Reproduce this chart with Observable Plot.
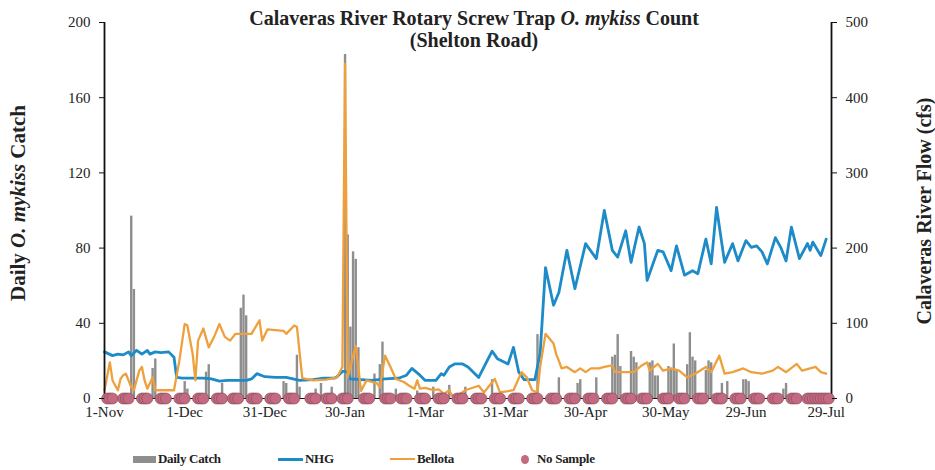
<!DOCTYPE html>
<html><head><meta charset="utf-8">
<script src="https://cdn.jsdelivr.net/npm/d3@7"></script>
<script src="https://cdn.jsdelivr.net/npm/@observablehq/plot@0.6"></script>
<style>
body{margin:0;background:#fff;}
#wrap{position:relative;width:935px;height:470px;font-family:"Liberation Serif","Times New Roman",serif;color:#222;}
.leg{position:absolute;top:450px;height:18px;display:flex;align-items:center;font-weight:bold;font-size:13px;letter-spacing:-0.3px;white-space:nowrap;}
.sw{display:inline-block;margin-right:2px;}
</style></head><body><div id="wrap"></div>
<script>
// ---- data ----
const startDate = "2014-11-01";
const endDate = "2015-07-31";
const xTickDates = ["2014-11-01","2014-12-01","2014-12-31","2015-01-30","2015-03-01","2015-03-31","2015-04-30","2015-05-30","2015-06-29","2015-07-29"];
const leftTicks = [0, 40, 80, 120, 160, 200];
const rightTicks = [0, 100, 200, 300, 400, 500];

// Daily catch (day offset from 1-Nov, count)
const catchDays   = [10,11,18,19,30,31,38,39,44,51,52,53,67,68,72,73,79,81,85,90,91,92,93,94,95,101,103,104,109,117,123,129,135,145,162,170,177,178,184,190,191,192,193,197,198,199,204,205,206,207,211,212,213,214,218,219,220,221,225,226,227,231,233,239,240,241,254,255];
const catchCounts = [97,58,16,21,9,5,14,18,8,48,55,44,9,8,23,6,5,8,6,183,87,38,78,74,27,13,18,30,5,4,6,7,6,10,34,11,8,10,11,22,23,34,17,25,22,19,19,20,12,12,17,16,29,15,18,35,22,20,15,20,19,8,9,10,10,9,5,8];

// NHG flow (cfs)
const nhgDays = [0,3,5,7,9,10,12,14,16,17,19,21,24,26,27,29,33,37,40,43,46,49,53,55,57,60,64,68,73,78,82,86,87,89,90,91,92,96,100,105,110,113,115,118,120,124,126,127,129,131,134,136,140,145,147,151,153,155,157,161,163,165,168,170,173,176,180,184,187,190,192,195,197,200,202,203,207,209,212,214,217,220,222,225,227,229,232,235,237,240,242,244,246,248,251,253,255,257,260,263,264,265,268,270];
const nhgFlow = [62,57,59,58,62,57,64,59,64,59,62,61,62,55,28,27,27,27,26,23,24,24,24,26,33,29,28,28,24,25,27,27,29,36,36,35,26,25,24,26,27,31,40,31,24,24,33,31,42,46,46,42,28,63,53,46,68,35,25,25,60,174,124,141,197,146,206,186,250,197,188,223,181,228,206,157,197,195,170,203,164,170,166,212,179,254,181,206,183,210,201,203,195,179,214,201,183,228,186,206,197,208,190,212];

// Bellota flow (cfs)
const bellotaDays = [0,2,3,5,6,7,8,10,11,13,14,15,16,18,19,26,28,30,31,33,34,35,37,39,41,43,45,47,49,52,55,58,59,61,64,67,68,71,72,74,78,83,87,89,90,91,94,96,98,102,103,105,107,109,112,114,116,117,118,120,123,125,127,129,130,133,135,140,142,146,148,153,156,158,160,162,163,165,168,169,170,171,173,176,178,180,182,185,187,190,191,194,198,201,203,204,207,209,212,215,218,221,225,227,230,232,235,239,242,246,250,252,255,259,261,264,266,268,270];
const bellotaFlow = [11,48,24,11,26,31,33,15,11,37,42,24,13,28,11,11,50,99,97,59,24,77,93,68,82,99,82,77,86,86,86,104,77,92,91,90,86,97,95,27,24,25,28,42,445,28,70,10,24,20,15,57,42,26,22,17,13,24,13,14,11,12,6,11,4,6,11,17,8,26,8,11,35,28,11,8,42,86,73,59,50,40,42,35,40,35,40,40,42,44,35,35,35,44,48,37,46,37,40,37,28,33,42,35,57,33,35,40,35,33,37,42,35,46,37,40,42,35,33];

// No-sample days (day offset from 1-Nov)
const noSampleDays = [1,2,3,7,8,9,14,15,16,21,22,23,28,29,30,35,36,37,42,43,44,48,49,50,55,56,57,62,63,64,69,70,71,77,78,79,83,84,85,89,90,91,97,98,99,105,106,107,111,112,113,118,119,120,125,126,127,132,133,134,139,140,141,146,147,148,153,154,155,160,161,162,167,168,169,174,175,176,181,182,183,188,189,190,195,196,197,201,202,203,209,210,211,215,216,217,222,223,224,229,230,231,236,237,238,243,244,245,250,251,252,257,258,259,263,264,265,266,267,268,269,270,271];

const titleText = ["Calaveras River Rotary Screw Trap ", "O. mykiss", " Count"];
const subtitleText = "(Shelton Road)";
const leftLabel = ["Daily ", "O. mykiss", " Catch"];
const rightLabel = "Calaveras River Flow (cfs)";
const legendLabels = ["Daily Catch", "NHG", "Bellota", "No Sample"];

// ---- build ----
const t0 = new Date(startDate);
const day = n => d3.utcDay.offset(t0, n);
const flowScale = 200 / 500; // flow axis mapped onto catch axis
const catchData = catchDays.map((d, i) => ({date: day(d), count: catchCounts[i]}));
const nhg = nhgDays.map((d, i) => ({date: day(d), flow: nhgFlow[i]}));
const bellota = bellotaDays.map((d, i) => ({date: day(d), flow: bellotaFlow[i]}));
const noSample = noSampleDays.map(d => ({date: day(d), v: 0}));
const xDomain = [new Date(startDate), new Date(endDate)];

const C = {bar: "#8e8e8e", nhg: "#1d8bc7", bel: "#eea03c", dot: "#c46a80", dotStroke: "#7e4657"};

const chart = Plot.plot({
  width: 935, height: 432,
  marginTop: 22, marginBottom: 34, marginLeft: 104, marginRight: 104,
  x: {type: "utc", domain: xDomain},
  y: {domain: [0, 200]},
  style: {fontFamily: "'Liberation Serif', 'Times New Roman', serif", fontSize: "15px", color: "#222", background: "#fff"},
  marks: [
    Plot.ruleX(catchData, {x: "date", y1: 0, y2: "count", stroke: C.bar, strokeWidth: 2.4}),
    Plot.line(nhg, {x: "date", y: d => d.flow * flowScale, stroke: C.nhg, strokeWidth: 2.8, curve: "linear"}),
    Plot.line(bellota, {x: "date", y: d => d.flow * flowScale, stroke: C.bel, strokeWidth: 2.3, curve: "linear"}),
    Plot.ruleY([0], {stroke: "#111", strokeWidth: 1.2}),
    Plot.ruleX(xDomain, {stroke: "#111", strokeWidth: 1.8}),
    Plot.dot(noSample, {x: "date", y: "v", r: 5.5, fill: C.dot, stroke: C.dotStroke, strokeWidth: 0.6}),
    Plot.axisY(leftTicks, {anchor: "left", tickSize: 5, tickPadding: 9, label: null, stroke: "#111"}),
    Plot.axisY(rightTicks.map(v => v * flowScale), {anchor: "right", tickSize: 5, tickPadding: 9, label: null, stroke: "#111", tickFormat: v => Math.round(v / flowScale)}),
    Plot.axisX(xTickDates.map(s => new Date(s)), {tickSize: 0, tickPadding: 8, label: null, tickFormat: d3.utcFormat("%-d-%b")})
  ]
});

const wrap = document.getElementById("wrap");
wrap.appendChild(chart);

const svg = d3.select(chart);
const font = "'Liberation Serif', 'Times New Roman', serif";
function addText(x, y, parts, rot, size) {
  const t = svg.append("text")
    .attr("text-anchor", "middle")
    .attr("font-family", font).attr("font-size", size).attr("font-weight", "bold").attr("fill", "#222")
    .attr("transform", `translate(${x},${y})` + (rot ? ` rotate(${rot})` : ""));
  (Array.isArray(parts) ? parts : [parts]).forEach((p, i) => {
    const s = t.append("tspan").text(p);
    if (Array.isArray(parts) && i === 1) s.attr("font-style", "italic");
  });
}
addText(474, 25, titleText, 0, 20);
addText(474, 47, subtitleText, 0, 20);
addText(25, 203, leftLabel, -90, 21);
addText(931, 211, rightLabel, -90, 20);

// legend
const legPos = [133, 278, 390, 521];
const swatches = [
  `<span class="sw" style="width:23px;height:7px;background:${C.bar};"></span>`,
  `<span class="sw" style="width:25px;height:3px;background:${C.nhg};"></span>`,
  `<span class="sw" style="width:25px;height:2px;background:${C.bel};"></span>`,
  `<span class="sw" style="width:8px;height:9px;border-radius:50%;background:${C.dot};margin-right:8px;"></span>`
];
legendLabels.forEach((lab, i) => {
  const el = document.createElement("div");
  el.className = "leg";
  el.style.left = legPos[i] + "px";
  el.innerHTML = swatches[i] + `<span>${lab}</span>`;
  wrap.appendChild(el);
});
</script>
</body></html>
